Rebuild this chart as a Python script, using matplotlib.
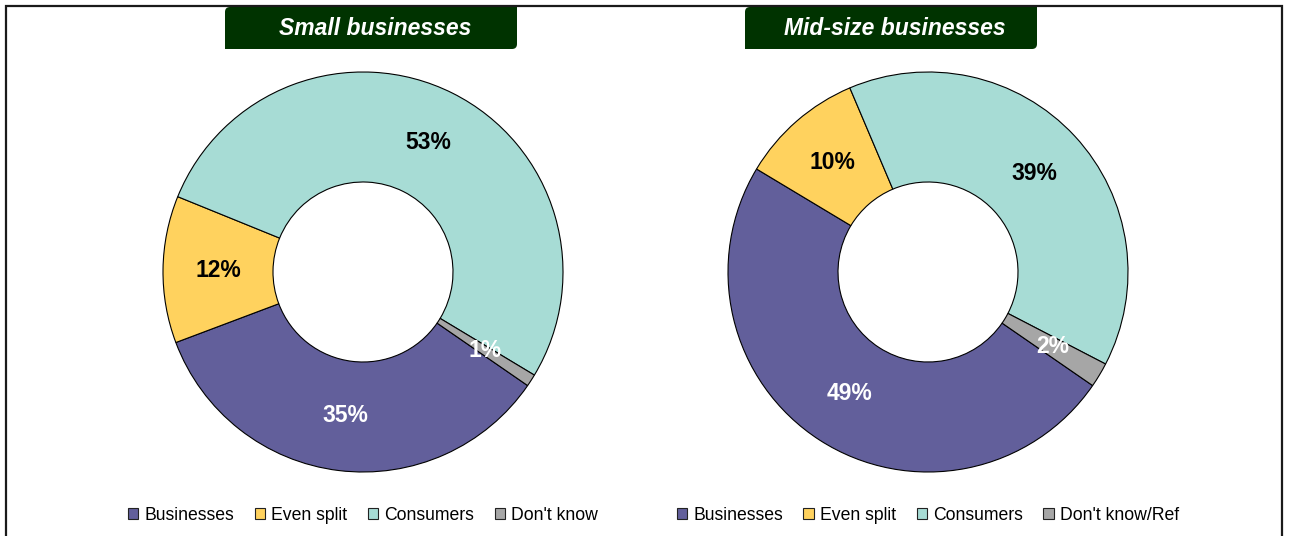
import numpy as np
import matplotlib.pyplot as plt
from matplotlib.path import Path
from matplotlib.patches import PathPatch, Patch

# ============================================================
# DATA
# ============================================================

titles = ["Small businesses", "Mid-size businesses"]

small_labels = ["Businesses", "Even split", "Consumers", "Don't know"]
small_values = [35, 12, 53, 1]

mid_labels = ["Businesses", "Even split", "Consumers", "Don't know/Ref"]
mid_values = [49, 10, 39, 2]

# ============================================================
# STYLE
# ============================================================

plt.rcParams["font.family"] = ["Liberation Sans", "DejaVu Sans"]

colors = ["#625F9B", "#FFD25E", "#A7DCD5", "#A6A6A6"]
text_colors = ["white", "black", "black", "white"]
dark_green = "#003300"

W, H = 1289, 536
fig = plt.figure(figsize=(W / 100, H / 100), dpi=100)

# overlay in pixel coordinates for frame and title boxes
bg = fig.add_axes([0, 0, 1, 1], zorder=0)
bg.set_xlim(0, W)
bg.set_ylim(H, 0)
bg.axis("off")

bg.plot([6, 6, 1282, 1282], [H + 5, 5.5, 5.5, H + 5],
        color="#1a1a1a", lw=1.6, solid_joinstyle="miter", clip_on=False)


def title_box(ax, x0, x1, y0, y1, r=5):
    verts = [(x0, y1), (x0, y0 + r), (x0, y0), (x0 + r, y0),
             (x1, y0), (x1, y1 - r), (x1, y1), (x1 - r, y1), (x0, y1)]
    codes = [Path.MOVETO, Path.LINETO, Path.CURVE3, Path.CURVE3,
             Path.LINETO, Path.LINETO, Path.CURVE3, Path.CURVE3, Path.CLOSEPOLY]
    ax.add_patch(PathPatch(Path(verts, codes), facecolor=dark_green,
                           edgecolor="none"))


# ============================================================
# DONUTS
# ============================================================

centers = [(363, 272), (928, 272)]
boxes = [(225, 517), (745, 1037)]
radius_px = 200
series = [(small_labels, small_values), (mid_labels, mid_values)]

for (cx, cy), (bx0, bx1), title, (labels, values) in zip(centers, boxes, titles, series):

    ax = fig.add_axes([(cx - radius_px) / W, (H - cy - radius_px) / H,
                       2 * radius_px / W, 2 * radius_px / H], zorder=1)

    wedges, _ = ax.pie(
        values,
        colors=colors,
        startangle=-34.6,
        counterclock=False,
        radius=1,
        wedgeprops=dict(width=0.55, edgecolor="black", linewidth=0.8)
    )

    for w, tc in zip(wedges, text_colors):
        mid = np.deg2rad((w.theta1 + w.theta2) / 2)
        pct = (w.theta2 - w.theta1) / 360 * sum(values)
        ax.text(0.725 * np.cos(mid), 0.725 * np.sin(mid), f"{pct:.0f}%",
                ha="center", va="center", fontsize=16.5, fontweight="bold",
                color=tc)

    ax.set_xlim(-1, 1)
    ax.set_ylim(-1, 1)
    ax.set_aspect("equal")
    ax.axis("off")
    for p in wedges:
        p.set_clip_on(False)

    title_box(bg, bx0, bx1, 7, 49)
    bg.text((bx0 + bx1) / 2 + 4, 28.5, title, ha="center", va="center",
            color="white", fontsize=16.5, fontweight="bold", style="italic")

    handles = [Patch(facecolor=c, edgecolor="#222222", linewidth=0.8)
               for c in colors]
    fig.legend(
        handles, labels,
        loc="center",
        bbox_to_anchor=(cx / W, 1 - 515 / H),
        ncol=4,
        frameon=False,
        fontsize=12.7,
        handlelength=0.6,
        handleheight=0.6,
        handletextpad=0.35,
        columnspacing=1.15,
        borderaxespad=0
    )

plt.savefig("out.png", dpi=100)
